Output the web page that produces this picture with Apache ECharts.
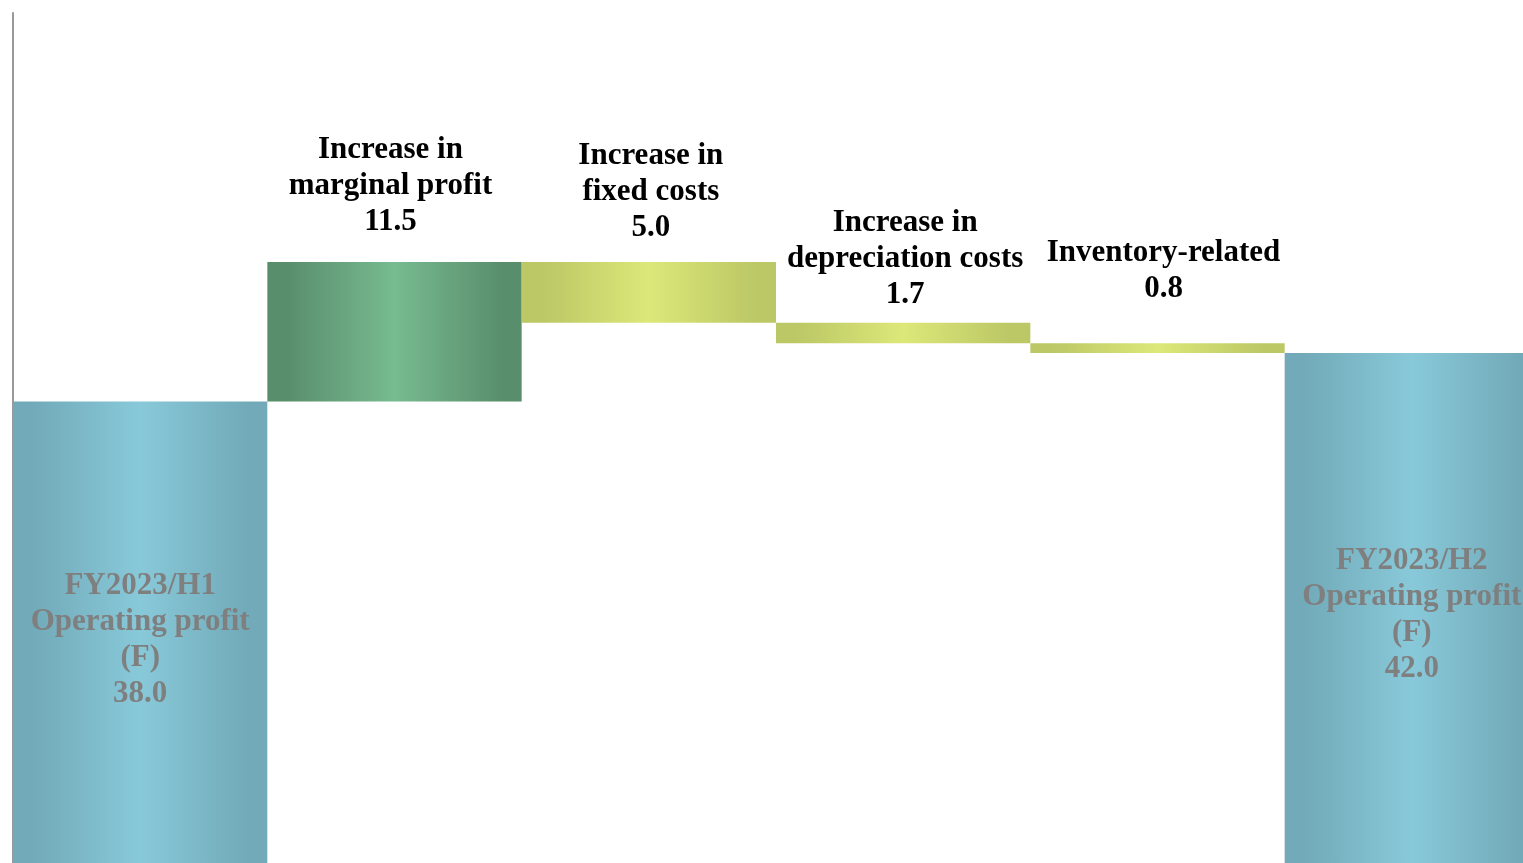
<!DOCTYPE html>
<html>
<head>
<meta charset="utf-8">
<style>
  html, body { margin: 0; padding: 0; background: #fff; overflow: hidden; }
  /* the last bar runs past the right edge of the page, so the chart is wider than the window */
  #chart { width: 1539px; height: 863px; }
</style>
<script src="https://cdn.jsdelivr.net/npm/echarts@6/dist/echarts.min.js"></script>
</head>
<body>
<div id="chart"></div>
<script>
// waterfall: FY2023 H1 -> H2 operating profit bridge
const categories = [
  'FY2023/H1\nOperating profit\n(F)',
  'Increase in\nmarginal profit',
  'Increase in\nfixed costs',
  'Increase in\ndepreciation costs',
  'Inventory-related',
  'FY2023/H2\nOperating profit\n(F)'
];
const values = [38.0, 11.5, 5.0, 1.7, 0.8, 42.0];
const kinds = ['total', 'up', 'down', 'down', 'down', 'total'];

// label nudges so text sits where the original put it
const labelOffsets = [[0, 8], [-4, -17], [2, -11], [2, -5], [6, -31], [0, 7]];

function grad(edge, mid) {
  return new echarts.graphic.LinearGradient(0, 0, 1, 0, [
    { offset: 0, color: edge },
    { offset: 0.08, color: edge },
    { offset: 0.5, color: mid },
    { offset: 0.92, color: edge },
    { offset: 1, color: edge }
  ]);
}

const colors = {
  total: grad('#72aab9', '#88c9d9'),
  up: grad('#598e6d', '#77bb90'),
  down: grad('#bcc766', '#dce878')
};

let base = [];
let running = 0;
values.forEach((v, i) => {
  if (kinds[i] === 'total') {
    base.push(0);
    running = v;
  } else if (kinds[i] === 'up') {
    base.push(running);
    running += v;
  } else {
    running -= v;
    base.push(running);
  }
});

const font = '"Liberation Serif", "Times New Roman", serif';

let barData = values.map((v, i) => {
  const total = kinds[i] === 'total';
  return {
    value: v,
    itemStyle: { color: colors[kinds[i]] },
    label: {
      show: true,
      position: total ? 'inside' : 'top',
      offset: labelOffsets[i],
      color: total ? '#7f7f7f' : '#000',
      fontFamily: font,
      fontWeight: 'bold',
      fontSize: 31,
      lineHeight: 36,
      align: 'center',
      formatter: () => categories[i] + '\n' + v.toFixed(1)
    }
  };
});

const chart = echarts.init(document.getElementById('chart'));

let option = {
  animation: false,
  grid: { left: 13, right: 0, top: 13, bottom: 0 },
  xAxis: {
    type: 'category',
    data: categories,
    show: false
  },
  yAxis: {
    type: 'value',
    min: 0,
    max: 70,
    axisLine: { show: true, lineStyle: { color: '#999', width: 2 } },
    axisTick: { show: false },
    axisLabel: { show: false },
    splitLine: { show: false }
  },
  series: [
    {
      name: 'base',
      type: 'bar',
      stack: 'wf',
      barCategoryGap: '0%',
      itemStyle: { color: 'transparent' },
      silent: true,
      data: base
    },
    {
      name: 'value',
      type: 'bar',
      stack: 'wf',
      barCategoryGap: '0%',
      data: barData
    }
  ]
};

chart.setOption(option);
</script>
</body>
</html>
